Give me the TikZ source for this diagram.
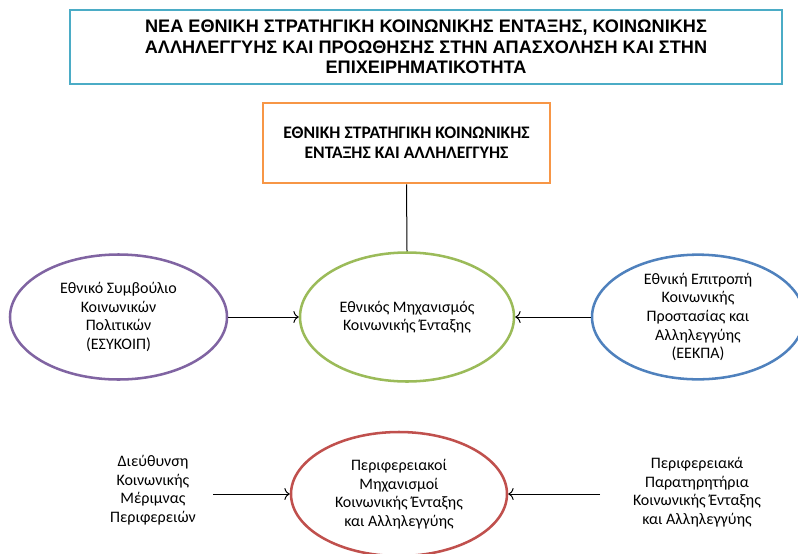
\documentclass[tikz,border=0pt]{standalone}
\usepackage{fontspec}
\setmainfont{Carlito}
\newfontfamily\headfont{Liberation Sans}
\usetikzlibrary{shapes.geometric, arrows.meta}

\definecolor{cyanline}{HTML}{4BACC6}
\definecolor{orangeline}{HTML}{F79646}
\definecolor{greenline}{HTML}{9BBB59}
\definecolor{purpleline}{HTML}{8064A2}
\definecolor{blueline}{HTML}{4F81BD}
\definecolor{redline}{HTML}{C0504D}

\tikzset{
  headbox/.style={draw=cyanline, line width=2.2pt, minimum width=534pt, minimum height=55.5pt,
    align=center, font=\headfont\bfseries\fontsize{13.6}{15.3}\selectfont},
  stratbox/.style={draw=orangeline, line width=1.9pt, minimum width=215pt, minimum height=60pt,
    align=center, font=\bfseries\fontsize{13.2}{15}\selectfont},
  oval/.style={ellipse, line width=1.9pt, align=center, inner sep=0pt,
    font=\fontsize{12}{14}\selectfont},
  plain/.style={align=center, font=\fontsize{12}{14}\selectfont},
  feed/.style={-{To[length=4pt, width=9pt]}, line width=0.75pt}
}

\begin{document}
\begin{tikzpicture}[x=0.75pt, y=-0.75pt]
    \useasboundingbox (0,0) rectangle (798,553);
    \clip (0,0) rectangle (798,553);

    % Boxes
    \node[headbox] (title) at (426,47) {ΝΕΑ ΕΘΝΙΚΗ ΣΤΡΑΤΗΓΙΚΗ ΚΟΙΝΩΝΙΚΗΣ ΕΝΤΑΞΗΣ, ΚΟΙΝΩΝΙΚΗΣ\\ΑΛΛΗΛΕΓΓΥΗΣ ΚΑΙ ΠΡΟΩΘΗΣΗΣ ΣΤΗΝ ΑΠΑΣΧΟΛΗΣΗ ΚΑΙ ΣΤΗΝ\\ΕΠΙΧΕΙΡΗΜΑΤΙΚΟΤΗΤΑ};
    \node[stratbox] (strategy) at (406.5,143) {ΕΘΝΙΚΗ ΣΤΡΑΤΗΓΙΚΗ ΚΟΙΝΩΝΙΚΗΣ\\ΕΝΤΑΞΗΣ ΚΑΙ ΑΛΛΗΛΕΓΓΥΗΣ};

    % Ellipses
    \node[oval, draw=greenline, minimum width=160.5pt, minimum height=96.75pt] (mech) at (407,317) {Εθνικός Μηχανισμός\\Κοινωνικής Ένταξης};
    \node[oval, draw=purpleline, minimum width=162.75pt, minimum height=93.75pt] (esykoip) at (118.5,317) {Εθνικό Συμβούλιο\\Κοινωνικών\\Πολιτικών\\(ΕΣΥΚΟΙΠ)};
    \node[oval, draw=blueline, minimum width=159pt, minimum height=93pt] (eekpa) at (698,317) {Εθνική Επιτροπή\\Κοινωνικής\\Προστασίας και\\Αλληλεγγύης\\(ΕΕΚΠΑ)};
    \node[oval, draw=redline, minimum width=162pt, minimum height=93pt] (regmech) at (399,494) {Περιφερειακοί\\Μηχανισμοί\\Κοινωνικής Ένταξης\\και Αλληλεγγύης};

    % Plain texts
    \node[plain] (dkm) at (153,490) {Διεύθυνση\\Κοινωνικής\\Μέριμνας\\Περιφερειών};
    \node[plain] (obs) at (697,492) {Περιφερειακά\\Παρατηρητήρια\\Κοινωνικής Ένταξης\\και Αλληλεγγύης};
    \coordinate (dkmend) at (213,494);
    \coordinate (obsend) at (600,494);

    % Connections
    \draw[line width=0.75pt] (strategy.south) -- (mech.north);
    \draw[feed] (esykoip.east) -- (mech.west);
    \draw[feed] (eekpa.west) -- (mech.east);
    \draw[feed] (dkmend) -- (regmech.west);
    \draw[feed] (obsend) -- (regmech.east);
\end{tikzpicture}
\end{document}
